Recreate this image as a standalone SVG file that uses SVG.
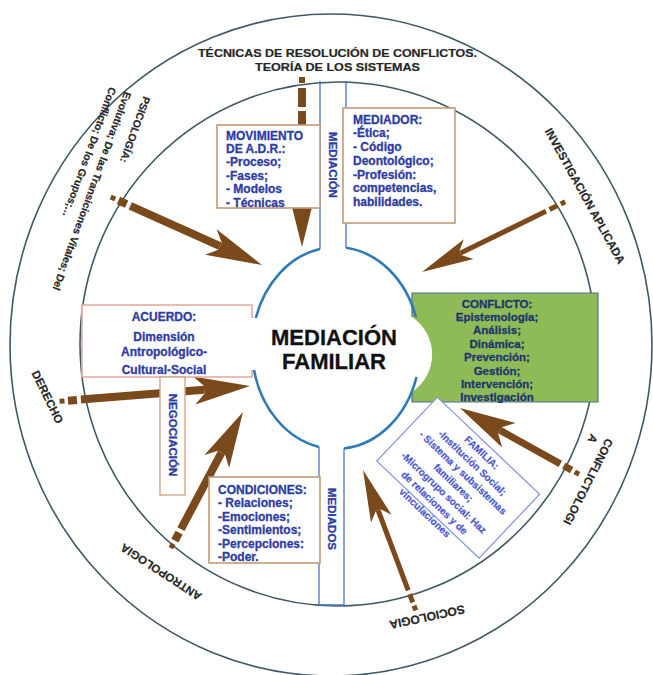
<svg xmlns="http://www.w3.org/2000/svg" width="653" height="675" viewBox="0 0 653 675">
  <defs>
    <style>
      .ring{fill:none;stroke:#3e5865;stroke-width:1.6}
      .t{font-family:"Liberation Sans",Arial,sans-serif;font-weight:bold}
      .dark{fill:#262626;stroke:#262626;stroke-width:0.2}
      .blue{fill:#2d3ca4;stroke:#2d3ca4;stroke-width:0.3;font-size:12px}
      .navy{fill:#1f356f;stroke:#1f356f;stroke-width:0.3;font-size:11.5px}
      .fam{fill:#4b57cf;stroke:#4b57cf;stroke-width:0.2;font-size:10px}
      .box{fill:#fff;stroke:#c49b76;stroke-width:1.6}
      .pink{fill:#fff;stroke:#e3a79c;stroke-width:1.6}
      .tan{fill:#fff;stroke:#cfa68a;stroke-width:1.4}
      .bandline{fill:none;stroke:#4a73c3;stroke-width:1.3}
      .arw{fill:#7a4a1c}
      .core{fill:none;stroke:#2e7ab6;stroke-width:2.6}
    </style>
    <!-- arrowheads: tip at origin, pointing along +x -->
    <polygon id="hl" points="0,0 -56,-14 -46,-4 -46,4 -56,14"/>
    <polygon id="hs" points="0,0 -52,-11 -43,-2.5 -43,2.5 -52,11"/>
  </defs>

  <rect width="653" height="675" fill="#fff"/>

  <!-- outer and inner rings -->
  <g id="rings">
    <ellipse class="ring" cx="331" cy="345" rx="321" ry="331"/>
    <ellipse class="ring" cx="338" cy="344" rx="258" ry="262"/>
  </g>

  <!-- labels in the outer ring -->
  <g id="ring-labels" class="t dark">
    <text x="337.5" y="57.3" text-anchor="middle" font-size="11.5" textLength="279" lengthAdjust="spacingAndGlyphs">TÉCNICAS DE RESOLUCIÓN DE CONFLICTOS.</text>
    <text x="337.5" y="70.7" text-anchor="middle" font-size="11.5" textLength="165" lengthAdjust="spacingAndGlyphs">TEORÍA DE LOS SISTEMAS</text>
    <g transform="translate(143.5,95.7) rotate(110)" font-size="10.5">
      <text x="0" y="0">PSICOLOGÍA:</text>
      <text x="2" y="19.5">Evolutiva; De las Transiciones Vitales; Del</text>
      <text x="3" y="35">Conflicto; De los Grupos;…</text>
    </g>
    <text transform="translate(585,196) rotate(61)" y="4" text-anchor="middle" font-size="11.5">INVESTIGACIÓN APLICADA</text>
    <g transform="translate(609.8,439.4) rotate(117)" font-size="11.5">
      <text x="0" y="4">CONFLICTOLOGI</text>
      <text x="3" y="19.5">A</text>
    </g>
    <text transform="translate(47.5,397) rotate(64)" y="4" text-anchor="middle" font-size="11.5">DERECHO</text>
    <text transform="translate(161,572) rotate(213)" y="4" text-anchor="middle" font-size="11.5">ANTROPOLOGIA</text>
    <text transform="translate(427,617) rotate(168)" y="4" text-anchor="middle" font-size="12">SOCIOLOGIA</text>
  </g>

  <!-- arrows from the disciplines towards the centre -->
  <g id="connectors" class="arw">
    <g id="arrow-tecnicas">
      <rect x="299" y="77" width="6" height="6"/>
      <rect x="298" y="88" width="8" height="19"/>
      <rect x="298" y="111" width="8" height="90"/>
      <use href="#hl" transform="translate(302,247) rotate(90)"/>
    </g>
    <g id="arrow-psicologia" transform="translate(262,265) rotate(24.2)">
      <rect x="-165.9" y="-2.5" width="5" height="5"/>
      <rect x="-157.4" y="-4" width="9" height="8"/>
      <rect x="-144.4" y="-4" width="98.4" height="8"/>
      <use href="#hl"/>
    </g>
    <g id="arrow-investigacion" transform="translate(422,272) rotate(153.9)">
      <rect x="-159.5" y="-2.5" width="5" height="5"/>
      <rect x="-151" y="-2.5" width="9" height="5"/>
      <rect x="-138" y="-2.5" width="95" height="5"/>
      <use href="#hs"/>
    </g>
    <g id="arrow-derecho" transform="translate(250,386) rotate(-4.6)">
      <rect x="-191.1" y="-2.5" width="5" height="5"/>
      <rect x="-182.6" y="-4" width="9" height="8"/>
      <rect x="-169.6" y="-4" width="123.6" height="8"/>
      <use href="#hl"/>
    </g>
    <g id="arrow-antropologia" transform="translate(243,412) rotate(-62.1)">
      <rect x="-154.1" y="-2.5" width="5" height="5"/>
      <rect x="-145.6" y="-4" width="9" height="8"/>
      <rect x="-132.6" y="-4" width="86.6" height="8"/>
      <use href="#hl"/>
    </g>
    <g id="arrow-sociologia" transform="translate(363,470) rotate(-110.6)">
      <rect x="-150" y="-2.5" width="5" height="5"/>
      <rect x="-141.5" y="-2.5" width="9" height="5"/>
      <rect x="-128.5" y="-2.5" width="85.5" height="5"/>
      <use href="#hs"/>
    </g>
    <g id="arrow-conflictologia" transform="translate(460,408) rotate(-150.9)">
      <rect x="-136.3" y="-2.5" width="5" height="5"/>
      <rect x="-127.8" y="-3.5" width="9" height="7"/>
      <rect x="-114.8" y="-3.5" width="68.8" height="7"/>
      <use href="#hl"/>
    </g>
  </g>

  <!-- vertical band above the centre -->
  <g id="mediacion">
    <path class="bandline" d="M320,81V249 M346,81V248"/>
    <text class="t blue" transform="translate(333,165) rotate(90)" y="4" text-anchor="middle" style="font-size:11.5px">MEDIACIÓN</text>
  </g>

  <!-- vertical band below the centre -->
  <g id="mediados">
    <path class="bandline" d="M319,447V605H344V448"/>
    <text class="t blue" transform="translate(332,519) rotate(90)" y="4" text-anchor="middle" style="font-size:11.5px">MEDIADOS</text>
  </g>

  <g id="movimiento">
    <rect class="box" x="217" y="125" width="103" height="83"/>
    <g class="t blue">
      <text x="226" y="139.5">MOVIMIENTO</text>
      <text x="226" y="152.9">DE A.D.R.:</text>
      <text x="226" y="166.3">-Proceso;</text>
      <text x="226" y="179.7">-Fases;</text>
      <text x="226" y="193.1">- Modelos</text>
      <text x="226" y="206.5">- Técnicas</text>
    </g>
  </g>

  <g id="mediador">
    <rect class="box" x="343" y="108" width="112" height="115"/>
    <g class="t blue">
      <text x="353" y="123.5">MEDIADOR:</text>
      <text x="353" y="137.3">-Ética;</text>
      <text x="353" y="151">- Código</text>
      <text x="353" y="164.8">Deontológico;</text>
      <text x="353" y="178.5">-Profesión:</text>
      <text x="353" y="192.3">competencias,</text>
      <text x="353" y="206">habilidades.</text>
    </g>
  </g>

  <g id="acuerdo">
    <path class="pink" d="M252,318V305H82V377H252V370"/>
    <g class="t blue" text-anchor="middle">
      <text x="164" y="321">ACUERDO:</text>
      <text x="164" y="341">Dimensión</text>
      <text x="164" y="355.5">Antropológico-</text>
      <text x="164" y="374.3">Cultural-Social</text>
    </g>
  </g>

  <g id="negociacion">
    <rect class="tan" x="160" y="377" width="25" height="118"/>
    <text class="t blue" transform="translate(172.5,435) rotate(90)" y="4" text-anchor="middle" style="font-size:11.5px">NEGOCIACIÓN</text>
  </g>

  <g id="condiciones">
    <rect class="box" x="209" y="477" width="111" height="86"/>
    <g class="t blue">
      <text x="218" y="494">CONDICIONES:</text>
      <text x="218" y="507.4">- Relaciones;</text>
      <text x="218" y="520.8">-Emociones;</text>
      <text x="218" y="534.2">-Sentimientos;</text>
      <text x="218" y="547.6">-Percepciones:</text>
      <text x="218" y="561">-Poder.</text>
    </g>
  </g>

  <!-- central node -->
  <g id="mediacion-familiar">
    <ellipse cx="336" cy="348" rx="84" ry="101" fill="#fff"/>
  </g>

  <g id="conflicto">
    <path d="M412,293H598V402H412V392A45,45 0 0 0 412,317Z" fill="#8fbb57"/>
    <path d="M412,317V293H598V402H412V392" fill="none" stroke="#4f6f98" stroke-width="1.2"/>
    <g class="t navy" text-anchor="middle">
      <text x="497" y="307.5">CONFLICTO:</text>
      <text x="497" y="320.9">Epistemología;</text>
      <text x="497" y="334.3">Análisis;</text>
      <text x="497" y="347.7">Dinámica;</text>
      <text x="497" y="361.1">Prevención;</text>
      <text x="497" y="374.5">Gestión;</text>
      <text x="497" y="387.9">Intervención;</text>
      <text x="497" y="401.3">Investigación</text>
    </g>
  </g>

  <g id="mediacion-familiar-outline">
    <path class="core" d="M346,247.7A84,101 0 0 1 415.9,317 M416.5,377A84,101 0 0 1 344,448.5 M319,446.9A84,101 0 0 1 254,370 M255.8,318A84,101 0 0 1 320,248.9"/>
    <g class="t" fill="#111" stroke="#111" stroke-width="0.3" font-size="22" text-anchor="middle">
      <text x="334" y="345">MEDIACIÓN</text>
      <text x="334" y="369">FAMILIAR</text>
    </g>
  </g>

  <g id="familia" transform="translate(458.2,477.7) rotate(43.5)">
    <rect x="-70.5" y="-44" width="141" height="88" fill="#fff" stroke="#8094da" stroke-width="1.2"/>
    <g class="t fam" text-anchor="middle">
      <text x="0" y="-31">FAMILIA:</text>
      <text x="0" y="-17.2">-Institución Social;</text>
      <text x="0" y="-3.4">- Sistema y subsistemas</text>
      <text x="0" y="10.4">familiares;</text>
      <text x="0" y="24.2">-Microgrupo social: Haz</text>
      <text x="0" y="38">de relaciones y de</text>
      <text x="0" y="51.8">vinculaciones</text>
    </g>
  </g>
</svg>
